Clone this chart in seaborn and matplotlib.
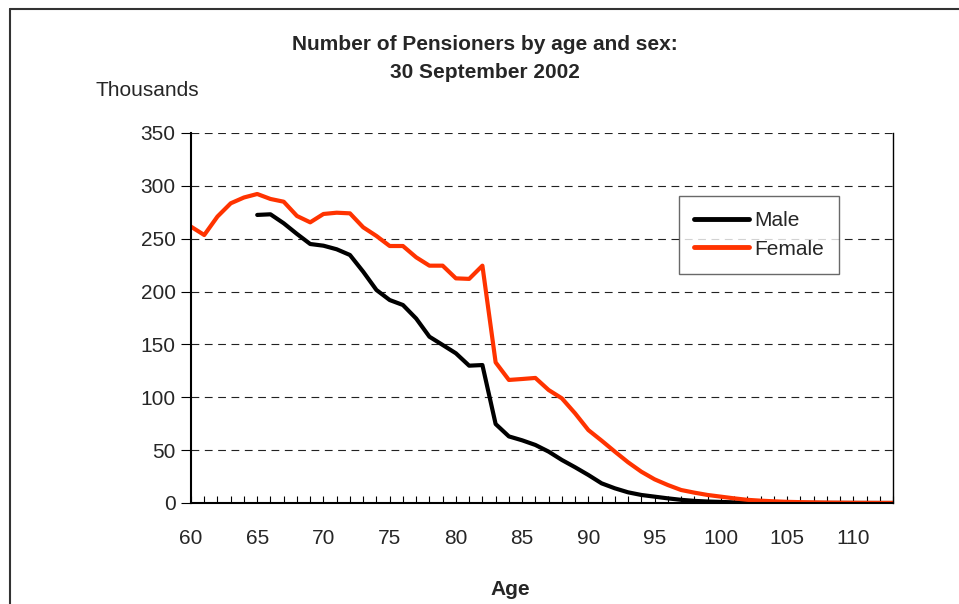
import numpy as np
import pandas as pd
import matplotlib
matplotlib.use("Agg")
import matplotlib.pyplot as plt
import seaborn as sns
from matplotlib.ticker import MultipleLocator

ages = list(range(60, 114))
male = [np.nan, np.nan, np.nan, np.nan, np.nan,
        272.5, 273.1, 264.6, 254.5, 245.0, 243.4, 240.0, 234.6, 218.8, 201.5,
        192.0, 187.3, 174.5, 157.3, 149.5, 141.6, 129.9, 130.5, 74.7, 63.0,
        59.3, 54.9, 48.6, 40.7, 33.8, 26.5, 18.6, 13.9, 10.1, 7.6,
        6.0, 4.4, 3.0, 2.0, 1.4, 1.0, 0.6, 0.4, 0.3, 0.2,
        0.15, 0.1, 0.1, 0.05, 0.05, 0.03, 0.02, 0.01, 0.01]
female = [261.4, 253.5, 271.0, 283.5, 289.0,
          292.3, 287.6, 285.0, 271.5, 265.5, 273.4, 274.6, 274.0, 260.8, 252.6,
          243.1, 243.1, 232.4, 224.5, 224.5, 212.5, 212.0, 224.5, 133.0, 116.4,
          117.3, 118.3, 106.9, 99.0, 84.8, 69.0, 59.0, 48.6, 38.5, 29.6,
          22.4, 17.0, 12.3, 9.8, 7.6, 6.0, 4.4, 3.0, 2.2, 1.6,
          1.1, 0.8, 0.6, 0.4, 0.3, 0.2, 0.15, 0.1, 0.1]
series_names = ["Male", "Female"]
series_colors = ["#000000", "#FF3300"]
x_tick_labels = [str(a) for a in range(60, 111, 5)]

df = pd.DataFrame({
    "Age": ages * 2,
    "Value": male + female,
    "Sex": ["Male"] * len(ages) + ["Female"] * len(ages),
})

sns.set_style("white")
plt.rcParams["font.family"] = ["Liberation Sans", "DejaVu Sans"]

FS = 15

fig = plt.figure(figsize=(9.59, 6.04), dpi=100)
ax = fig.add_axes([191 / 959, 1 - 503 / 604, 702 / 959, 370 / 604])

sns.lineplot(data=df, x="Age", y="Value", hue="Sex", hue_order=series_names,
             palette=dict(zip(series_names, series_colors)),
             linewidth=3.0, ax=ax, legend=True)

ax.set_xlim(60, 113)
ax.set_ylim(0, 350)
ax.xaxis.set_minor_locator(MultipleLocator(1))
ax.yaxis.set_major_locator(MultipleLocator(50))
ax.set_xticks(range(60, 111, 5))
ax.set_xticklabels(x_tick_labels)
ax.tick_params(axis="x", which="both", direction="in", length=5, width=0.8,
               color="#000000", labelsize=FS, pad=18.5, bottom=True)
ax.tick_params(axis="y", which="major", direction="out", length=7, width=0.8,
               color="#000000", labelsize=FS, pad=4, left=True)
ax.grid(axis="y", which="major", linestyle=(0, (7, 5)), color="#222222", linewidth=0.8)
ax.grid(axis="x", visible=False)
for side in ["left", "bottom", "right"]:
    ax.spines[side].set_visible(True)
    ax.spines[side].set_color("#000000")
ax.spines["left"].set_linewidth(1.5)
ax.spines["bottom"].set_linewidth(1.5)
ax.spines["right"].set_linewidth(1.0)
ax.spines["top"].set_visible(False)

ax.set_xlabel("Age", fontsize=FS, fontweight="bold")
ax.xaxis.set_label_coords((510 - 191) / 702, (503 - 580) / 370)
ax.set_ylabel("")

leg = ax.legend(loc="upper left", bbox_to_anchor=(0.68, 0.857), frameon=True,
                fancybox=False, edgecolor="#444444", fontsize=FS,
                handlelength=2.65, handletextpad=0.25, borderpad=0.72,
                labelspacing=0.45)
leg.get_frame().set_linewidth(1.0)
for line in leg.get_lines():
    line.set_linewidth(3.5)

fig.text(485 / 959, 1 - 44 / 604, "Number of Pensioners by age and sex:",
         ha="center", va="center", fontsize=FS, fontweight="bold")
fig.text(485 / 959, 1 - 72 / 604, "30 September 2002",
         ha="center", va="center", fontsize=FS, fontweight="bold")
fig.text(96 / 959, 1 - 90 / 604, "Thousands", ha="left", va="center", fontsize=FS)

# outer chart border (top and left edges visible)
fig.add_artist(plt.Line2D([9.5 / 959, 1.0], [1 - 8.5 / 604, 1 - 8.5 / 604],
                          transform=fig.transFigure, color="#333333", linewidth=1.5))
fig.add_artist(plt.Line2D([9.5 / 959, 9.5 / 959], [0, 1 - 8.5 / 604],
                          transform=fig.transFigure, color="#333333", linewidth=1.5))

fig.savefig("out.png", dpi=100)
